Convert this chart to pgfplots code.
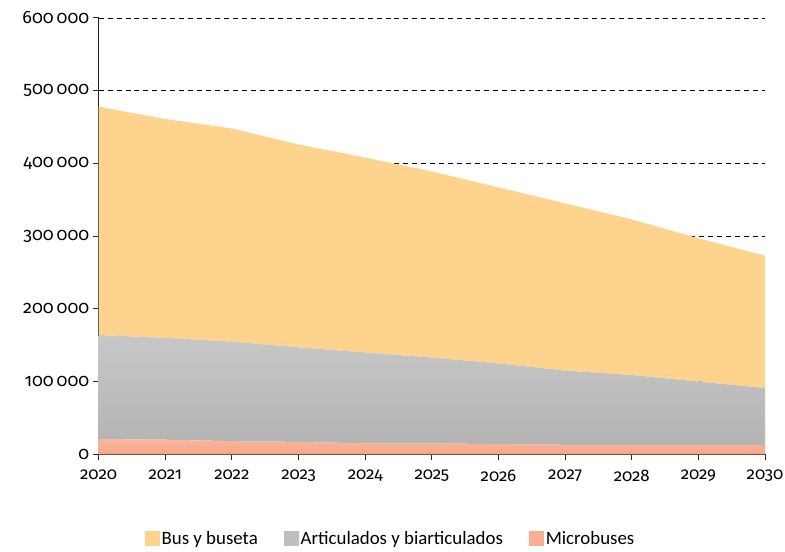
\documentclass[border=0pt]{standalone}
\usepackage{fontspec}
\setmainfont{Carlito}
\newfontfamily\tickfont{Fira Sans}[Numbers=OldStyle]
\usepackage{pgfplots}
\pgfplotsset{compat=1.18}
\definecolor{bus}{HTML}{FDD38E}
\definecolor{artA}{HTML}{C6C7C6}
\definecolor{artB}{HTML}{B3B4B3}
\definecolor{artL}{HTML}{BDBEBD}
\definecolor{micA}{HTML}{F8B69B}
\definecolor{micB}{HTML}{F5A68B}
\definecolor{micL}{HTML}{F7AE92}
\begin{document}
\begin{tikzpicture}
\useasboundingbox (-99bp,-98bp) rectangle (689bp,456bp);
\begin{axis}[
  at={(0,0)}, anchor=south west,
  scale only axis, width=669bp, height=438bp,
  xmin=2020, xmax=2030, ymin=0, ymax=600000,
  axis x line=bottom, axis y line=left,
  axis line style={-, line width=0.9bp, color=black!85},
  xtick={2020,2021,...,2030}, ytick={0,100000,...,600000},
  tick align=outside, major tick length=6bp,
  tick style={line width=0.9bp, color=black!85},
  x tick label style={/pgf/number format/fixed, /pgf/number format/1000 sep={}, yshift=-6bp, font=\tickfont\fontsize{17}{20}\selectfont},
  y tick label style={/pgf/number format/fixed, /pgf/number format/1000 sep={\,}, font=\tickfont\fontsize{18}{20}\selectfont},
  scaled y ticks=false, scaled x ticks=false,
  /pgf/number format/assume math mode=true,
  ymajorgrids,
  grid style={black, line width=0.8bp, dash pattern=on 5bp off 4bp},
  stack plots=y,
  legend style={at={(axis description cs:0.438,-0.193)}, anchor=center, draw=none,
    font=\fontsize{19}{21}\selectfont,
    /tikz/every even column/.append style={column sep=24bp}},
  legend columns=3,
  legend image code/.code={\fill[#1] (0bp,-7.5bp) rectangle (15bp,7.5bp);},
]
\addlegendimage{fill=bus, draw=none}
\addlegendentry{Bus y buseta}
\addlegendimage{fill=artL, draw=none}
\addlegendentry{Articulados y biarticulados}
\addlegendimage{fill=micL, draw=none}
\addlegendentry{Microbuses}

% Microbuses
\addplot[draw=none, top color=micA, bottom color=micB, forget plot] coordinates {
(2020,21000) (2021,20000) (2022,18000) (2023,17000) (2024,15000) (2025,15000)
(2026,14000) (2027,13000) (2028,13000) (2029,13000) (2030,13000)} \closedcycle;
% Articulados y biarticulados
\addplot[draw=none, top color=artA, bottom color=artB, forget plot] coordinates {
(2020,143000) (2021,140000) (2022,137000) (2023,130000) (2024,125000) (2025,118000)
(2026,111000) (2027,102000) (2028,96000) (2029,87000) (2030,78000)} \closedcycle;
% Bus y buseta
\addplot[draw=none, fill=bus, forget plot] coordinates {
(2020,314000) (2021,301000) (2022,293000) (2023,279000) (2024,268000) (2025,256000)
(2026,242000) (2027,230000) (2028,214000) (2029,197000) (2030,182000)} \closedcycle;
\end{axis}
\end{tikzpicture}
\end{document}
